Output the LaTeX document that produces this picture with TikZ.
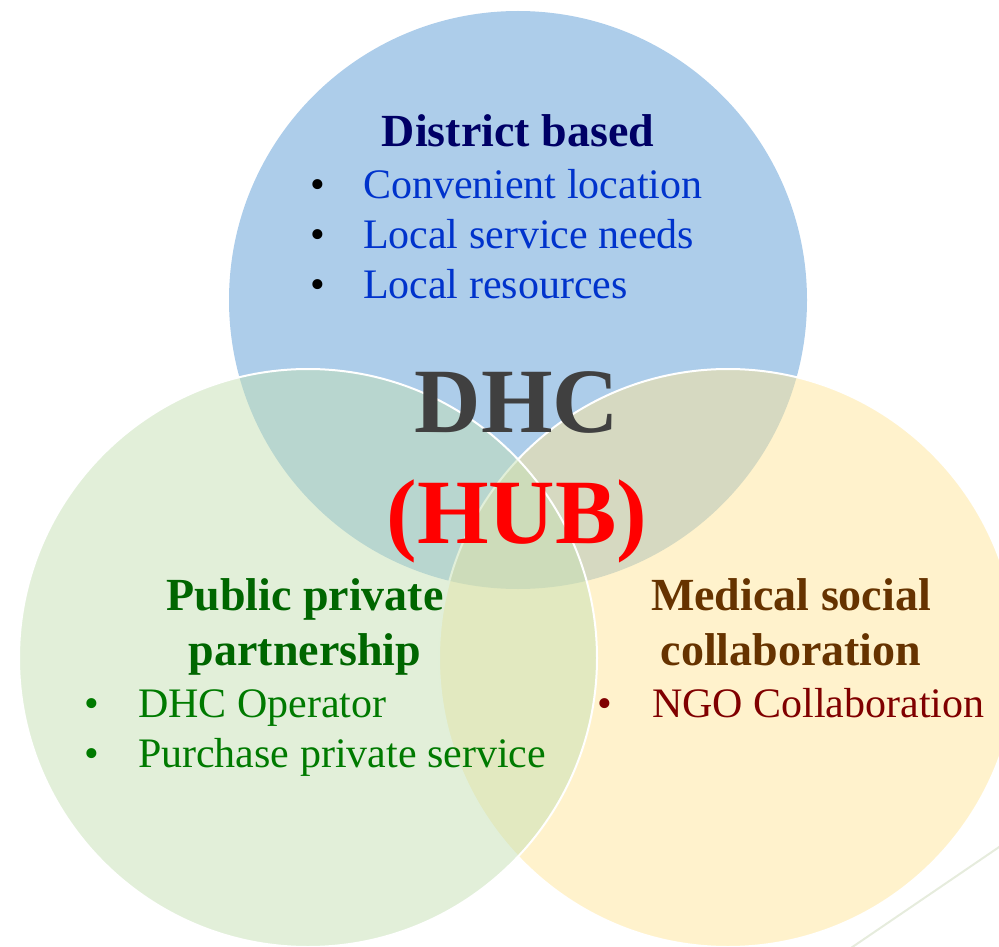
\documentclass[tikz,border=0pt]{standalone}
\usepackage{fontspec}
\setmainfont{Liberation Serif}
\definecolor{cblue}{HTML}{5B9BD5}
\definecolor{cyellow}{HTML}{FFE699}
\definecolor{cgreen}{HTML}{C5E0B4}
\definecolor{navyhead}{HTML}{000066}
\definecolor{blueitem}{HTML}{0033CC}
\definecolor{greenhead}{HTML}{006600}
\definecolor{greenitem}{HTML}{007A00}
\definecolor{brownhead}{HTML}{663300}
\definecolor{reditem}{HTML}{800000}
\definecolor{dhcgray}{HTML}{404040}
\definecolor{decoline}{HTML}{E6ECDD}
\begin{document}
\begin{tikzpicture}[x=1pt,y=-1pt,
  venn/.style={fill opacity=0.5, draw opacity=1},
  txt/.style={inner sep=0pt, outer sep=0pt, anchor=base},
  head/.style={txt, font=\fontsize{46}{55}\selectfont\bfseries},
  item/.style={txt, anchor=base west, font=\fontsize{42}{50}\selectfont},
  bul/.style={txt, font=\fontsize{42}{50}\selectfont},
  big/.style={txt, font=\fontsize{92}{110}\selectfont\bfseries}]
\useasboundingbox (0,0) rectangle (999,947);
\clip (0,0) rectangle (999,947);
% decorative line
\coordinate (d1) at (1005,843);
\coordinate (d2) at (848,950);
\draw[decoline, line width=2pt] (d1) -- (d2);
% circles
\path[venn, fill=cblue] (518,300) circle[radius=289];
\path[venn, fill=cyellow, draw=white, line width=2pt] (728,658) circle[radius=289];
\path[venn, fill=cgreen, draw=white, line width=2pt] (308,658) circle[radius=289];
% top circle text
\node[head, text=navyhead] (dist) at (518,147) {District based};
\node[bul] (b1) at (318,198) {•};
\node[bul] (b2) at (318,248) {•};
\node[bul] (b3) at (318,298) {•};
\node[item, text=blueitem] (t1) at (363,198) {Convenient location};
\node[item, text=blueitem] (t2) at (363,248) {Local service needs};
\node[item, text=blueitem] (t3) at (363,298) {Local resources};
% centre
\node[big, text=dhcgray] (dhc) at (517,432) {DHC};
\node[big, text=red] (hub) at (517,543) {(HUB)};
% left circle text
\node[head, text=greenhead] (ppp1) at (305,610) {Public private};
\node[head, text=greenhead] (ppp2) at (305,665) {partnership};
\node[bul, text=greenitem] (g1) at (92,717) {•};
\node[bul, text=greenitem] (g2) at (92,767) {•};
\node[item, text=greenitem] (gt1) at (138,717) {DHC Operator};
\node[item, text=greenitem] (gt2) at (138,767) {Purchase private service};
% right circle text
\node[head, text=brownhead] (msc1) at (791,610) {Medical social};
\node[head, text=brownhead] (msc2) at (791,665) {collaboration};
\node[bul, text=reditem] (r1) at (605,717) {•};
\node[item, text=reditem] (rt1) at (652,717) {NGO Collaboration};
\end{tikzpicture}
\end{document}
